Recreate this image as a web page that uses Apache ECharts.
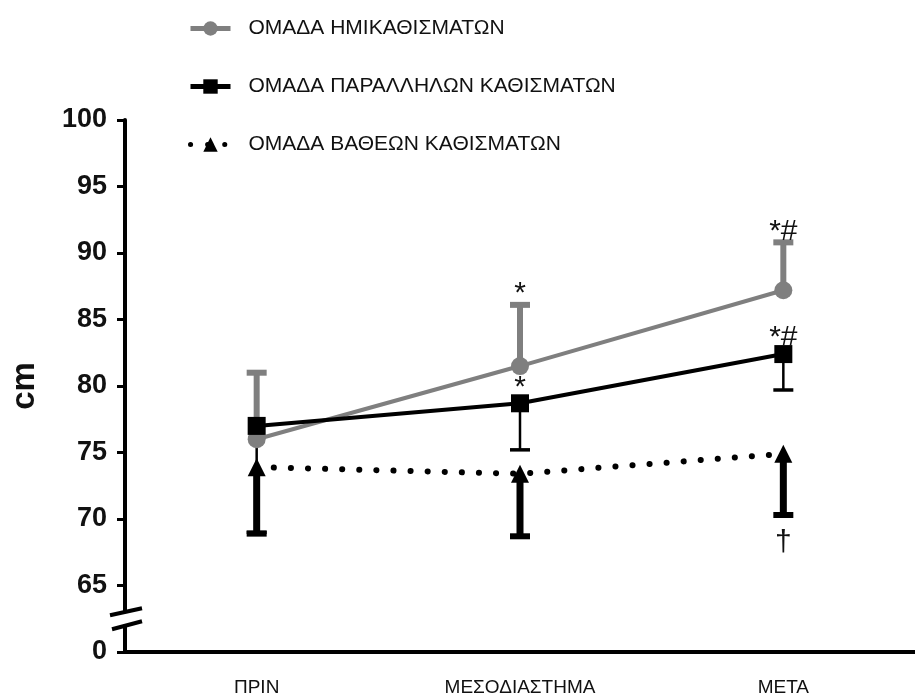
<!DOCTYPE html>
<html>
<head>
<meta charset="utf-8">
<script src="https://cdn.jsdelivr.net/npm/echarts@6/dist/echarts.min.js"></script>
<style>html,body{margin:0;padding:0;background:#fff}#c{width:915px;height:697px}</style>
</head>
<body>
<div id="c"></div>
<script>
var categories = ['ΠΡΙΝ', 'ΜΕΣΟΔΙΑΣΤΗΜΑ', 'ΜΕΤΑ'];
var seriesNames = ['ΟΜΑΔΑ ΗΜΙΚΑΘΙΣΜΑΤΩΝ', 'ΟΜΑΔΑ ΠΑΡΑΛΛΗΛΩΝ ΚΑΘΙΣΜΑΤΩΝ', 'ΟΜΑΔΑ ΒΑΘΕΩΝ ΚΑΘΙΣΜΑΤΩΝ'];
var semiMean = [76.0, 81.5, 87.2];
var semiErrEnd = [81.0, 86.1, 90.8];
var semiMarks = ['', '*', '*#'];
var parMean = [77.0, 78.7, 82.4];
var parErrEnd = [69.0, 75.2, 79.7];
var parMarks = ['', '*', '*#'];
var deepMean = [73.9, 73.4, 74.9];
var deepErrEnd = [68.9, 68.7, 70.3];
var deepMarks = ['', '', '†'];
var yTicks = [60, 65, 70, 75, 80, 85, 90, 95, 100];
var yTickLabels = ['0', '65', '70', '75', '80', '85', '90', '95', '100'];

var GRAY = '#7f7f7f';
var FONT = 'Liberation Sans, Arial, sans-serif';

function errData(mean, end, marks) {
  return mean.map(function (m, i) { return [i, m, end[i], marks[i]]; });
}

function makeErr(color, barW, capW, capH) {
  return function (params, api) {
    var i = api.value(0);
    var pm = api.coord([i, api.value(1)]);
    var pe = api.coord([i, api.value(2)]);
    return {
      type: 'group',
      children: [
        { type: 'line', shape: { x1: pm[0], y1: pm[1], x2: pe[0], y2: pe[1] }, style: { stroke: color, lineWidth: barW } },
        { type: 'line', shape: { x1: pe[0] - capW / 2, y1: pe[1], x2: pe[0] + capW / 2, y2: pe[1] }, style: { stroke: color, lineWidth: capH } }
      ]
    };
  };
}

function markSeries(name, mean, end, marks, kind) {
  return {
    type: 'custom',
    name: name + ' marks',
    z: 5,
    silent: true,
    data: errData(mean, end, marks),
    renderItem: function (params, api) {
      var i = api.value(0);
      var txt = marks[params.dataIndex];
      if (!txt) return null;
      var pm = api.coord([i, api.value(1)]);
      var pe = api.coord([i, api.value(2)]);
      var x = pm[0], y, va;
      if (kind === 'top-end') { y = pe[1] + 4; va = 'bottom'; }
      else if (kind === 'top-mean') { y = pm[1] - 1; va = 'bottom'; }
      else { y = pe[1] + 13; va = 'top'; }
      return {
        type: 'text',
        style: { text: txt, x: x, y: y, align: 'center', verticalAlign: va, fontSize: 30, fontFamily: FONT, fill: '#111' }
      };
    }
  };
}

var chart = echarts.init(document.getElementById('c'));

var option = {
  animation: false,
  backgroundColor: '#fff',
  grid: { left: 118, top: 120, bottom: 44, right: -10, containLabel: false },
  legend: {
    orient: 'vertical',
    left: 188,
    top: 18,
    itemWidth: 40,
    itemHeight: 18,
    itemGap: 37,
    padding: 0,
    data: seriesNames,
    lineStyle: { width: 5 },
    textStyle: { fontSize: 21, fontFamily: FONT, color: '#111', padding: [0, 0, 0, 13] }
  },
  xAxis: {
    type: 'category',
    data: categories,
    boundaryGap: true,
    axisLine: { lineStyle: { color: '#000', width: 4 } },
    axisTick: { alignWithLabel: true, length: 8, lineStyle: { width: 4, color: '#000' } },
    axisLabel: { fontSize: 19, fontFamily: FONT, color: '#111', margin: 26 },
    splitLine: { show: false }
  },
  yAxis: {
    type: 'value',
    min: 60,
    max: 100,
    interval: 5,
    name: 'cm',
    nameLocation: 'middle',
    nameRotate: 90,
    nameGap: 84,
    nameTextStyle: { fontSize: 33, fontWeight: 'bold', fontFamily: FONT, color: '#111' },
    axisLine: { show: true, lineStyle: { color: '#000', width: 4 } },
    axisTick: { show: true, length: 8, lineStyle: { width: 3, color: '#000' } },
    axisLabel: {
      fontSize: 27, fontWeight: 'bold', fontFamily: FONT, color: '#111', margin: 18,
      formatter: function (v) { var k = yTicks.indexOf(v); return k >= 0 ? yTickLabels[k] : ''; }
    },
    splitLine: { show: false }
  },
  series: [
    {
      type: 'custom', name: 'errSemi', silent: true, z: 1,
      data: errData(semiMean, semiErrEnd, semiMarks),
      renderItem: makeErr(GRAY, 6, 20, 6)
    },
    {
      type: 'custom', name: 'errPar', silent: true, z: 1,
      data: errData(parMean, parErrEnd, parMarks),
      renderItem: makeErr('#000', 2.5, 20, 3.5)
    },
    {
      type: 'custom', name: 'errDeep', silent: true, z: 1,
      data: errData(deepMean, deepErrEnd, deepMarks),
      renderItem: makeErr('#000', 7, 20, 6)
    },
    {
      type: 'line', name: seriesNames[2], data: deepMean, z: 2,
      symbol: 'triangle', symbolSize: 18,
      itemStyle: { color: '#000' },
      lineStyle: { color: '#000', width: 6, type: [0.1, 17], cap: 'round' }
    },
    {
      type: 'line', name: seriesNames[0], data: semiMean, z: 3,
      symbol: 'circle', symbolSize: 18,
      itemStyle: { color: GRAY },
      lineStyle: { color: GRAY, width: 4 }
    },
    {
      type: 'line', name: seriesNames[1], data: parMean, z: 4,
      symbol: 'rect', symbolSize: 18,
      itemStyle: { color: '#000' },
      lineStyle: { color: '#000', width: 4 }
    },
    markSeries('semi', semiMean, semiErrEnd, semiMarks, 'top-end'),
    markSeries('par', parMean, parErrEnd, parMarks, 'top-mean'),
    markSeries('deep', deepMean, deepErrEnd, deepMarks, 'below-end')
  ]
};
chart.setOption(option);

// axis break marks, placed from the axis scale
var rect = chart.getModel().getComponent('grid').coordinateSystem.getRect();
var x0 = rect.x;
var y0 = chart.convertToPixel({ yAxisIndex: 0 }, 62.5);
chart.setOption({
  graphic: [
    { type: 'rect', shape: { x: x0 - 4, y: y0 - 6, width: 8, height: 12 }, style: { fill: '#fff' }, z: 100 },
    { type: 'line', shape: { x1: x0 - 15, y1: y0 - 3.5, x2: x0 + 17, y2: y0 - 10.5 }, style: { stroke: '#000', lineWidth: 4 }, z: 101 },
    { type: 'line', shape: { x1: x0 - 13, y1: y0 + 10.5, x2: x0 + 17, y2: y0 + 2.5 }, style: { stroke: '#000', lineWidth: 4 }, z: 101 }
  ]
});
</script>
</body>
</html>
